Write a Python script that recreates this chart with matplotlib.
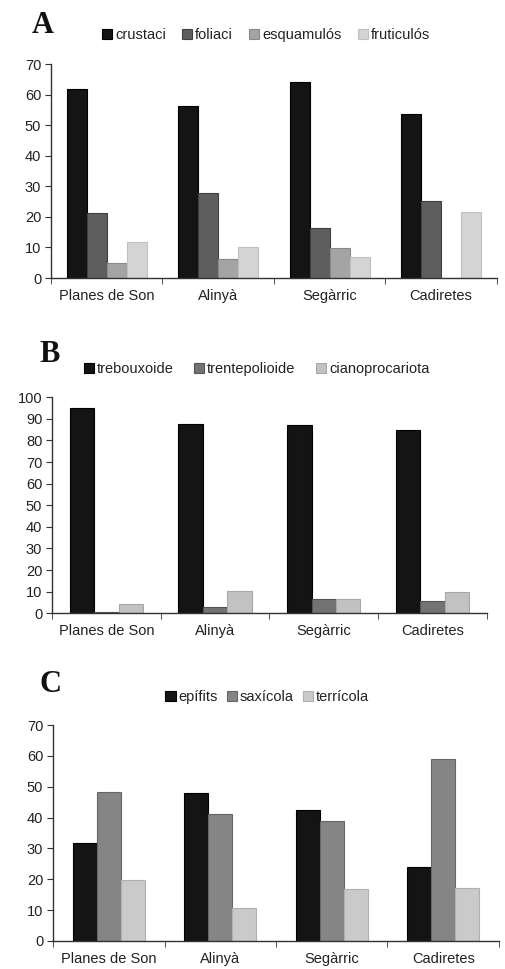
import numpy as np
import matplotlib.pyplot as plt

plt.rcParams['font.family'] = ['Liberation Sans', 'DejaVu Sans']

sites = ['Planes de Son', 'Alinyà', 'Segàrric', 'Cadiretes']

# A - growth form
forma_noms = ['crustaci', 'foliaci', 'esquamulós', 'fruticulós']
crustaci = [61.7, 56.3, 64.0, 53.8]
foliaci = [21.2, 27.7, 16.3, 25.1]
esquamulos = [4.8, 6.1, 9.7, 0.0]
fruticulos = [11.8, 10.1, 7.0, 21.6]

# B - photobiont
foto_noms = ['trebouxoide', 'trentepolioide', 'cianoprocariota']
trebouxoide = [95.2, 87.8, 87.3, 84.7]
trentepolioide = [0.4, 3.0, 6.4, 5.6]
cianoprocariota = [4.1, 10.3, 6.4, 9.9]

# C - substrate
subs_noms = ['epífits', 'saxícola', 'terrícola']
epifits = [31.9, 48.0, 42.3, 24.0]
saxicola = [48.3, 41.3, 39.0, 59.1]
terricola = [19.7, 10.7, 16.8, 17.3]

txt = '#222222'


def panel(fig, rect, series, names, colors, edges, width, ymax, ystep,
          letter, letter_xy, leg_xy, colsp):
    ax = fig.add_axes(rect)
    x = np.arange(len(sites))
    n = len(series)
    handles = []
    for i, vals in enumerate(series):
        off = (i - (n - 1) / 2) * width
        b = ax.bar(x + off, vals, width, color=colors[i], edgecolor=edges[i],
                   linewidth=0.8, label=names[i])
        handles.append(b)
    ax.set_xlim(-0.5, len(sites) - 0.5)
    ax.set_ylim(0, ymax)
    ax.set_yticks(np.arange(0, ymax + 1, ystep))
    ax.set_xticks(x)
    ax.set_xticklabels(sites, fontsize=10.5, color=txt)
    ax.set_xticks(np.arange(-0.5, len(sites), 1.0), minor=True)
    ax.tick_params(axis='x', which='major', length=0, pad=8)
    ax.tick_params(axis='x', which='minor', length=4, color='#333333', direction='out')
    ax.tick_params(axis='y', length=4, color='#333333', labelsize=10.5,
                   labelcolor=txt, pad=3)
    for s in ['top', 'right']:
        ax.spines[s].set_visible(False)
    for s in ['left', 'bottom']:
        ax.spines[s].set_color('#333333')
        ax.spines[s].set_linewidth(1.0)
    fig.text(letter_xy[0], letter_xy[1], letter, fontsize=22, fontweight='bold',
             family='Liberation Serif', color='#111111', va='center', ha='left')
    fig.legend(handles=handles, loc='center', bbox_to_anchor=leg_xy, ncol=n,
               frameon=False, fontsize=10.5, handlelength=0.7, handleheight=0.7,
               handletextpad=0.2, columnspacing=colsp, labelcolor=txt,
               borderpad=0, borderaxespad=0)
    return ax


fig = plt.figure(figsize=(5.05, 9.69), dpi=100)
fig.set_facecolor('white')

panel(fig, [0.101, 0.7131, 0.883, 0.2208],
      [crustaci, foliaci, esquamulos, fruticulos], forma_noms,
      ['#141414', '#5e5e5e', '#a4a4a4', '#d4d4d4'],
      ['#000000', '#404040', '#8a8a8a', '#c0c0c0'],
      0.18, 70, 10, 'A', (0.062, 0.974), (0.527, 0.964), 1.1)

panel(fig, [0.103, 0.3671, 0.861, 0.2229],
      [trebouxoide, trentepolioide, cianoprocariota], foto_noms,
      ['#141414', '#737373', '#c2c2c2'],
      ['#000000', '#555555', '#a8a8a8'],
      0.225, 100, 10, 'B', (0.078, 0.634), (0.508, 0.619), 1.4)

panel(fig, [0.105, 0.0289, 0.883, 0.2229],
      [epifits, saxicola, terricola], subs_noms,
      ['#141414', '#858585', '#cacaca'],
      ['#000000', '#666666', '#b0b0b0'],
      0.215, 70, 10, 'C', (0.078, 0.294), (0.529, 0.281), 0.6)

fig.savefig('out.png', dpi=100, facecolor='white')
